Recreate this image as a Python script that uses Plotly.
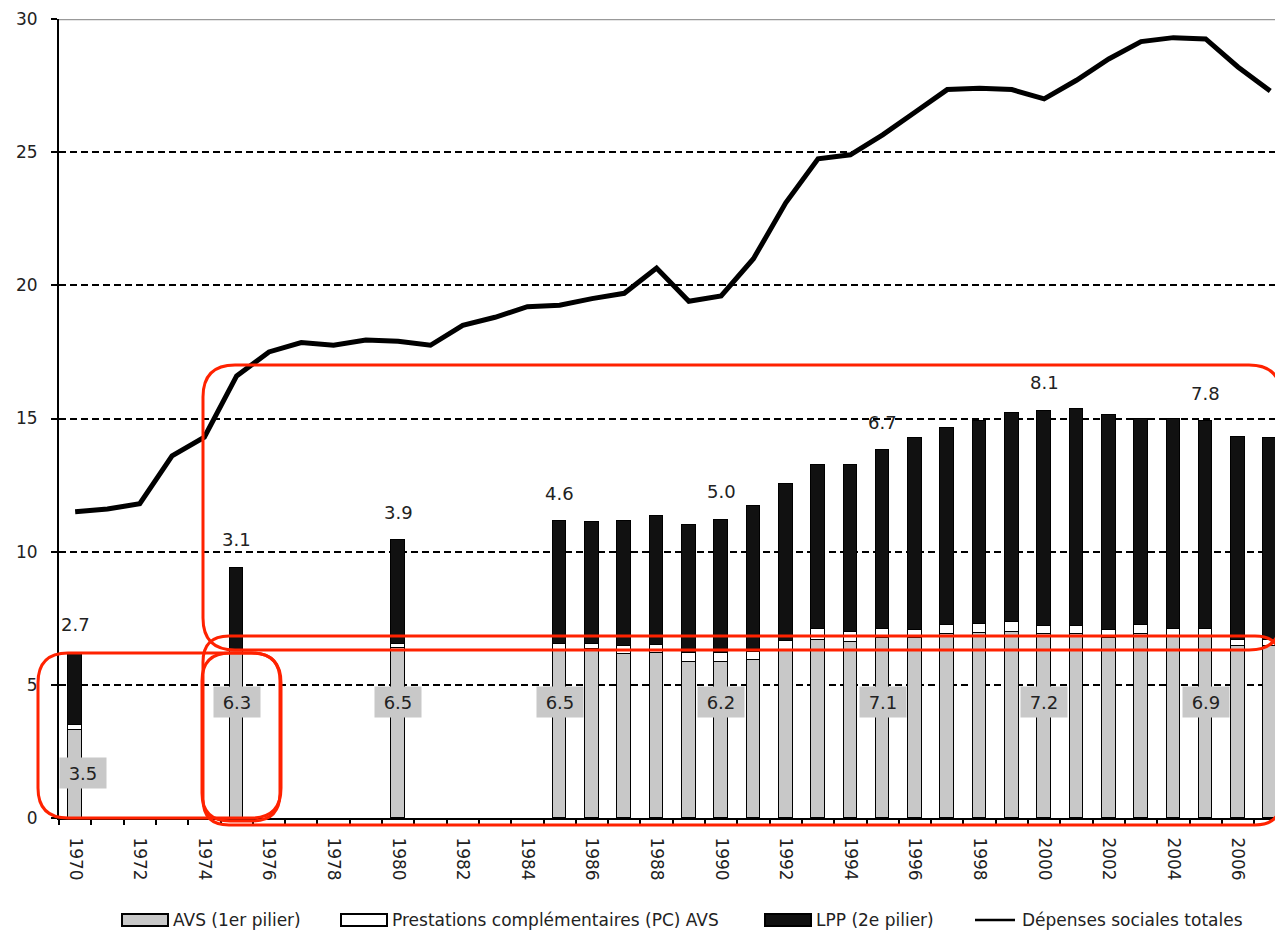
import plotly.graph_objects as go

# ---------------- data ----------------
years = list(range(1970, 2008))

total_spending = [11.5, 11.6, 11.8, 13.6, 14.3, 16.6, 17.5, 17.85, 17.75, 17.95,
                  17.9, 17.75, 18.5, 18.8, 19.2, 19.25, 19.5, 19.7, 20.65, 19.4,
                  19.6, 21.0, 23.1, 24.75, 24.9, 25.65, 26.5, 27.35, 27.4, 27.35,
                  27.0, 27.7, 28.5, 29.15, 29.3, 29.25, 28.2, 27.3]

avs = [3.3, None, None, None, None, 6.3, None, None, None, None,
       6.4, None, None, None, None, 6.3, 6.35, 6.15, 6.2, 5.85,
       5.85, 5.95, 6.3, 6.7, 6.6, 6.75, 6.75, 6.9, 6.95, 7.0,
       6.9, 6.9, 6.75, 6.9, 6.8, 6.8, 6.45, 6.45]

pc = [0.2, None, None, None, None, 0.0, None, None, None, None,
      0.12, None, None, None, None, 0.25, 0.2, 0.3, 0.3, 0.35,
      0.35, 0.3, 0.35, 0.4, 0.4, 0.35, 0.3, 0.35, 0.35, 0.35,
      0.3, 0.3, 0.3, 0.35, 0.3, 0.3, 0.25, 0.25]

lpp = [2.7, None, None, None, None, 3.1, None, None, None, None,
       3.9, None, None, None, None, 4.6, 4.55, 4.7, 4.85, 4.8,
       5.0, 5.45, 5.9, 6.15, 6.25, 6.7, 7.2, 7.4, 7.6, 7.85,
       8.1, 8.15, 8.1, 7.75, 7.9, 7.8, 7.6, 7.55]

label_years = [1970, 1975, 1980, 1985, 1990, 1995, 2000, 2005]
avs_labels = [3.5, 6.3, 6.5, 6.5, 6.2, 7.1, 7.2, 6.9]
lpp_labels = [2.7, 3.1, 3.9, 4.6, 5.0, 6.7, 8.1, 7.8]

tick_years = list(range(1970, 2007, 2))

series_names = ["AVS (1er pilier)", "Prestations complémentaires (PC) AVS",
                "LPP (2e pilier)", "Dépenses sociales totales"]

# ---------------- style ----------------
FONT = "DejaVu Sans"
GRAY = "#c8c8c8"
BLACK_BAR = "#111111"
RED = "#ff2200"
W, H = 1275, 933
ML, MR, MT, MB = 59, 0, 19, 115
PLOT_W = W - ML - MR
PLOT_H = H - MT - MB
CAT_PX = 32.3


def px2paper(px, py):
    """page pixel -> paper coordinates"""
    return (px - ML) / PLOT_W, (MT + PLOT_H - py) / PLOT_H


fig = go.Figure()

bar_line = dict(color="black", width=1.5)
fig.add_trace(go.Bar(x=years, y=avs, name=series_names[0], width=0.42,
                     marker=dict(color=GRAY, line=bar_line)))
fig.add_trace(go.Bar(x=years, y=pc, name=series_names[1], width=0.42,
                     marker=dict(color="white", line=bar_line)))
fig.add_trace(go.Bar(x=years, y=lpp, name=series_names[2], width=0.42,
                     marker=dict(color=BLACK_BAR, line=bar_line)))
fig.add_trace(go.Scatter(x=years, y=total_spending, name=series_names[3],
                         mode="lines", line=dict(color="black", width=5)))

# value labels
for i, (yr, a, l) in enumerate(zip(label_years, avs_labels, lpp_labels)):
    idx = years.index(yr)
    top = (avs[idx] or 0) + (pc[idx] or 0) + (lpp[idx] or 0)
    fig.add_annotation(x=yr, y=min(4.35, a - 1.8), text=f"{a:.1f}",
                       showarrow=False, bgcolor=GRAY, width=38, height=22,
                       borderpad=4, xshift=8 if i == 0 else 0,
                       font=dict(family=FONT, size=18, color="#222"))
    fig.add_annotation(x=yr, y=top, text=f"{l:.1f}", showarrow=False,
                       yshift=28, font=dict(family=FONT, size=18, color="#222"))

# top border line at 30
fig.add_shape(type="line", xref="paper", x0=0, x1=1, yref="y", y0=30, y1=30,
              line=dict(color="#999999", width=2.5), layer="above")


# red highlighting rounded rectangles
def rrect(x0, y0, x1, y1, r):
    pts = [("M", [(x0 + r, y0)]), ("L", [(x1 - r, y0)]), ("Q", [(x1, y0), (x1, y0 + r)]),
           ("L", [(x1, y1 - r)]), ("Q", [(x1, y1), (x1 - r, y1)]),
           ("L", [(x0 + r, y1)]), ("Q", [(x0, y1), (x0, y1 - r)]),
           ("L", [(x0, y0 + r)]), ("Q", [(x0, y0), (x0 + r, y0)])]
    s = ""
    for cmd, ps in pts:
        s += cmd + " " + " ".join("%.5f,%.5f" % px2paper(*p) for p in ps) + " "
    return s + "Z"


for (x0, y0, x1, y1, r) in [(38, 653, 281, 818, 30), (202, 653, 280, 821, 28),
                             (203, 365, 1281, 650, 32), (203, 636, 1281, 825, 26)]:
    fig.add_shape(type="path", xref="paper", yref="paper", path=rrect(x0, y0, x1, y1, r),
                  line=dict(color=RED, width=3), layer="above")

# legend (drawn: wide swatches as in the original)
LEG_Y = 920
legend_items = [  # (swatch x0, swatch x1, text x, fill) in page px
    (122, 168, 171, GRAY),
    (341, 387, 390, "white"),
    (765, 811, 814, BLACK_BAR),
    (975, 1015, 1020, None),
]
for (sx0, sx1, tx, fill), name in zip(legend_items, series_names):
    if fill is None:
        a = px2paper(sx0, LEG_Y)
        b = px2paper(sx1, LEG_Y)
        fig.add_shape(type="line", xref="paper", yref="paper", x0=a[0], y0=a[1],
                      x1=b[0], y1=b[1], line=dict(color="black", width=2.5))
    else:
        a = px2paper(sx0, LEG_Y - 6)
        b = px2paper(sx1, LEG_Y + 6)
        fig.add_shape(type="rect", xref="paper", yref="paper", x0=a[0], y0=a[1],
                      x1=b[0], y1=b[1], fillcolor=fill,
                      line=dict(color="black", width=2))
    t = px2paper(tx, LEG_Y)
    fig.add_annotation(xref="paper", yref="paper", x=t[0], y=t[1], text=name,
                       showarrow=False, xanchor="left", yanchor="middle",
                       font=dict(family=FONT, size=17, color="#222"))

fig.update_layout(
    width=W, height=H, template="none",
    barmode="stack", bargap=0,
    paper_bgcolor="white", plot_bgcolor="white",
    margin=dict(l=ML, r=MR, t=MT, b=MB, autoexpand=False),
    font=dict(family=FONT, size=17, color="#222"),
    showlegend=False,
    xaxis=dict(range=[1969.5, 1969.5 + PLOT_W / CAT_PX], tickmode="array",
               tickvals=tick_years, ticktext=[str(y) for y in tick_years],
               tickangle=90, ticks="outside", ticklen=6, tickcolor="rgba(0,0,0,0)",
               ticklabelstandoff=8,
               minor=dict(ticks="outside", tick0=1969.5, dtick=1, ticklen=5,
                          tickcolor="black", tickwidth=1.5, showgrid=False),
               showline=True, linecolor="black", linewidth=2, showgrid=False,
               zeroline=False, automargin=False,
               tickfont=dict(family=FONT, size=17, color="#222")),
    yaxis=dict(range=[0, 30], tickvals=[0, 5, 10, 15, 20, 25, 30],
               ticks="outside", ticklen=6, tickcolor="black", tickwidth=1.5,
               showline=True, linecolor="black", linewidth=2,
               showgrid=True, gridcolor="black", gridwidth=1.5, griddash="7px,4px",
               zeroline=False, automargin=False, ticklabelstandoff=10,
               tickfont=dict(family=FONT, size=17, color="#222")),
)

fig.write_html("out.html", config={"displayModeBar": False},
               post_script="document.body.style.margin='0';"
                           "document.body.style.overflow='hidden';")
